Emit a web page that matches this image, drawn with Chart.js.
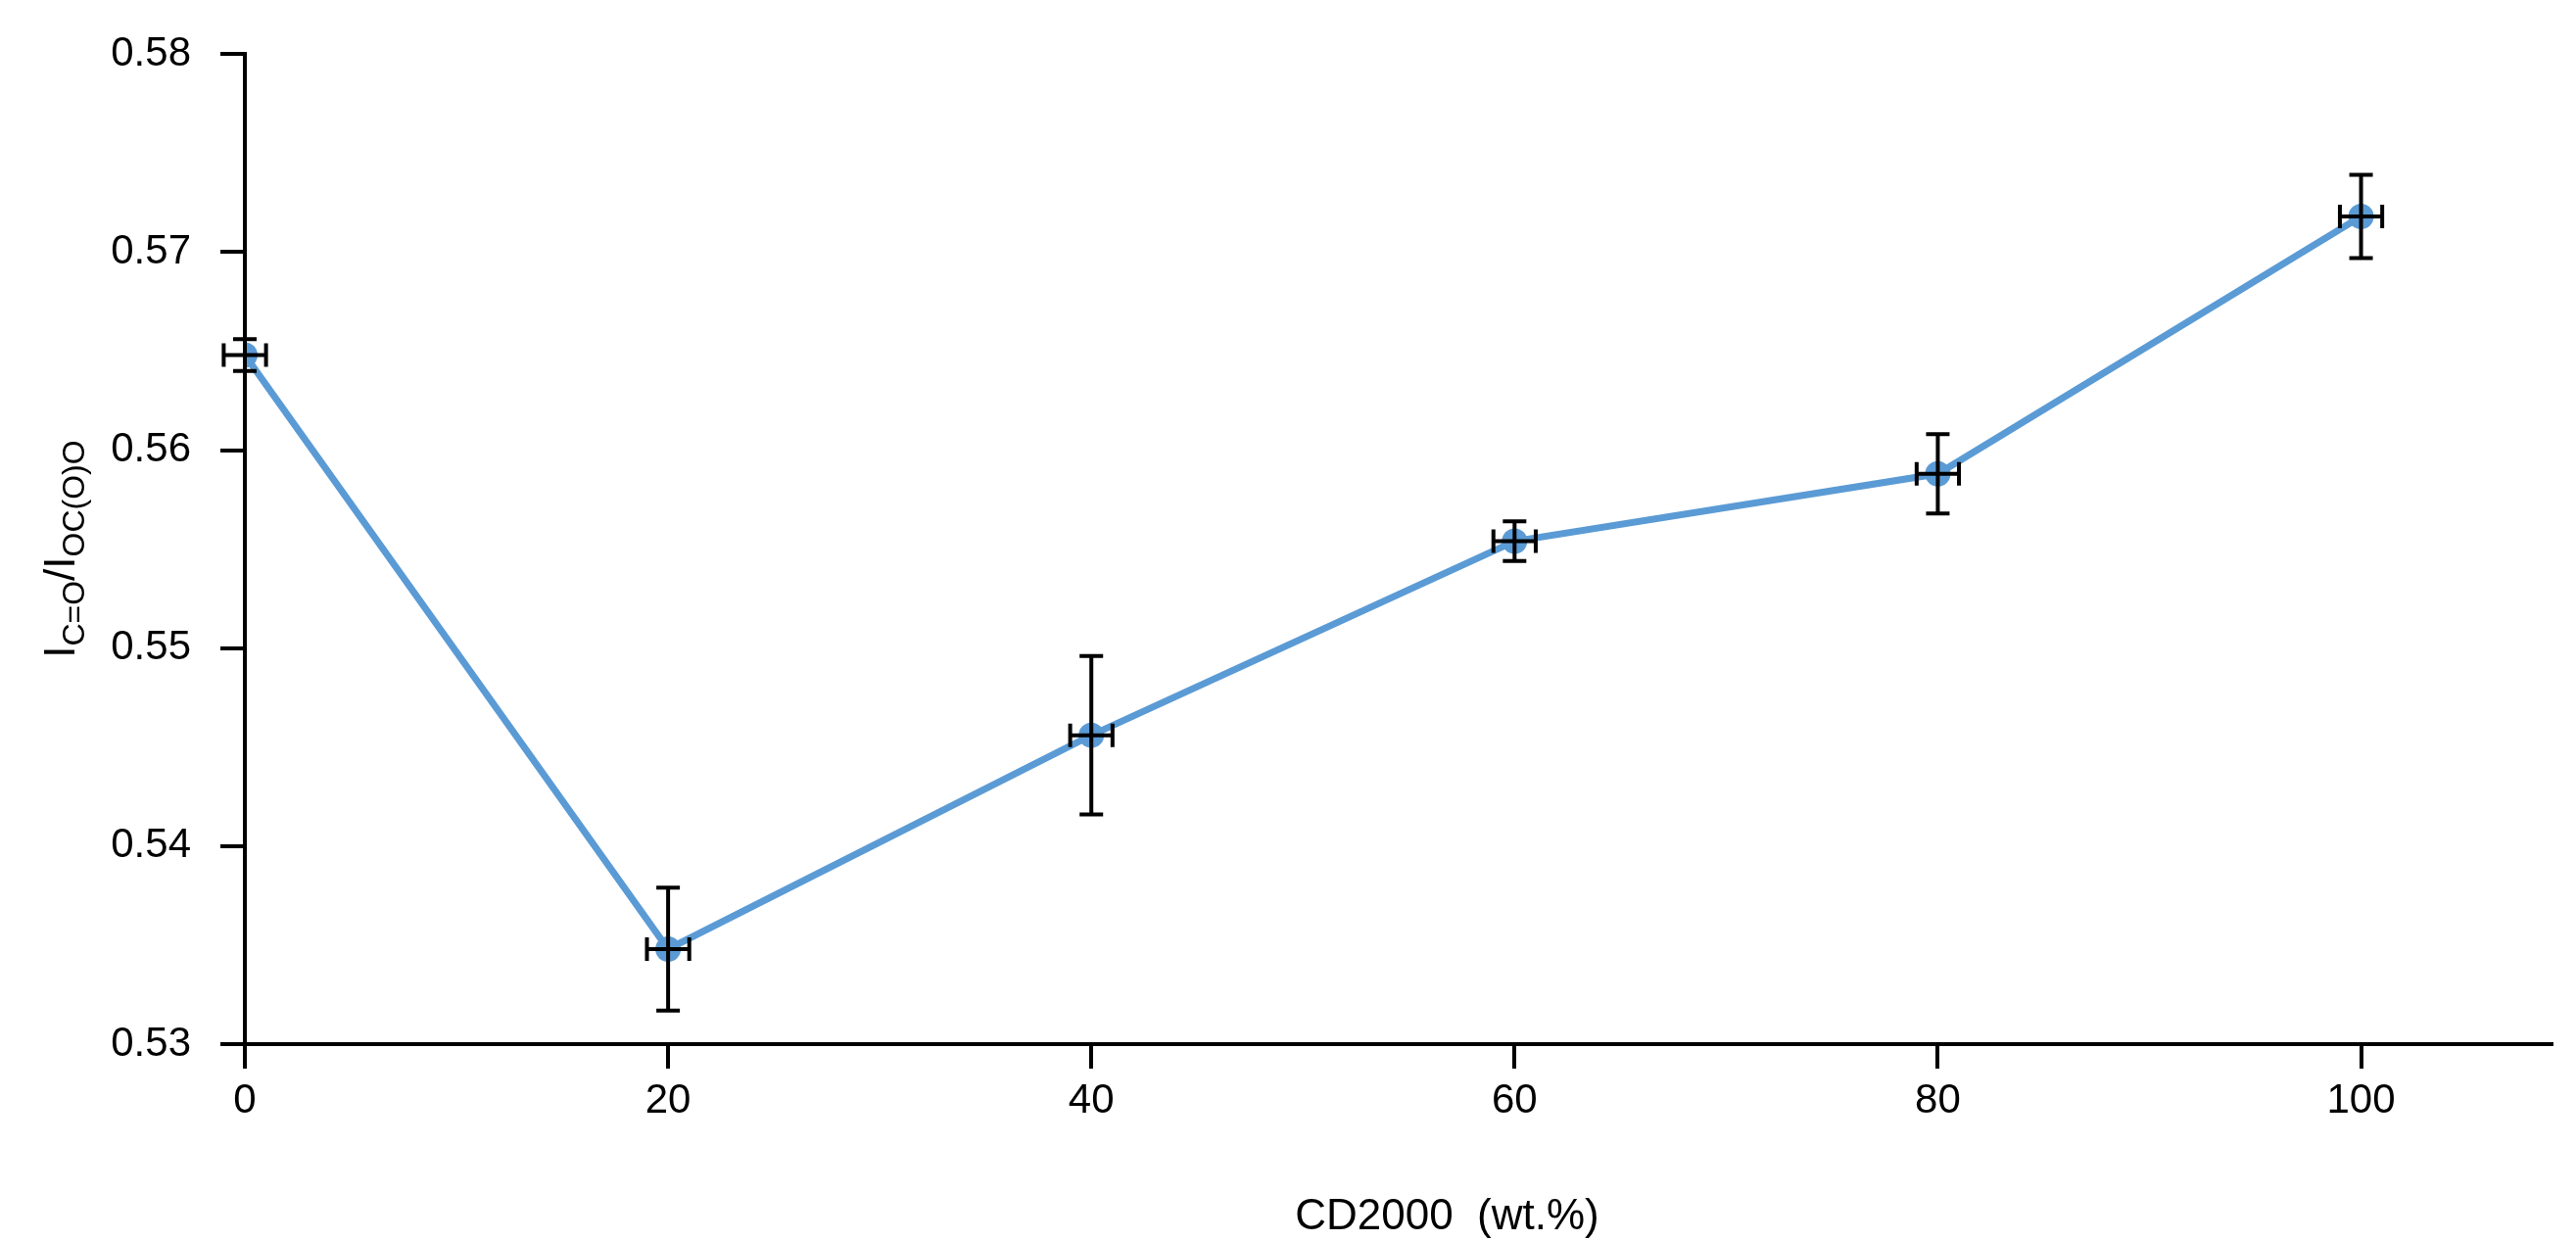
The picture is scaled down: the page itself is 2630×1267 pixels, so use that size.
<!DOCTYPE html>
<html>
<head>
<meta charset="utf-8">
<script src="https://cdn.jsdelivr.net/npm/chart.js@4"></script>
<style>
  html, body { margin: 0; padding: 0; background: #fff; }
  #wrap { width: 2630px; height: 1267px; }
</style>
</head>
<body>
<div id="wrap"><canvas id="chart" width="2630" height="1267"></canvas></div>
<script>
// Datos
const xValues = [0, 20, 40, 60, 80, 100];
const yValues = [0.5648, 0.5348, 0.5456, 0.5554, 0.5588, 0.5718];
const yErrors = [0.0008, 0.0031, 0.0040, 0.0010, 0.0020, 0.0021];
const xErrors = [1.0, 1.0, 1.0, 1.0, 1.0, 1.0];
const xTicks = [0, 20, 40, 60, 80, 100];
const yTicks = [0.53, 0.54, 0.55, 0.56, 0.57, 0.58];

const FONT = 'Liberation Sans, Arial, sans-serif';
const BLUE = '#5b9bd5';

// Barras de error en x e y
const errorBars = {
    id: 'errorBars',
    afterDatasetsDraw(chart) {
        const ctx = chart.ctx;
        const xs = chart.scales.x, ys = chart.scales.y;
        ctx.save();
        ctx.strokeStyle = '#000';
        ctx.lineWidth = 4;
        const cap = 12;
        for (let i = 0; i < xValues.length; i++) {
            const px = xs.getPixelForValue(xValues[i]);
            const py = ys.getPixelForValue(yValues[i]);
            const top = ys.getPixelForValue(yValues[i] + yErrors[i]);
            const bot = ys.getPixelForValue(yValues[i] - yErrors[i]);
            const l = xs.getPixelForValue(xValues[i] - xErrors[i]);
            const r = xs.getPixelForValue(xValues[i] + xErrors[i]);
            ctx.beginPath();
            ctx.moveTo(px, top); ctx.lineTo(px, bot);
            ctx.moveTo(px - cap, top); ctx.lineTo(px + cap, top);
            ctx.moveTo(px - cap, bot); ctx.lineTo(px + cap, bot);
            ctx.moveTo(l, py); ctx.lineTo(r, py);
            ctx.moveTo(l, py - cap); ctx.lineTo(l, py + cap);
            ctx.moveTo(r, py - cap); ctx.lineTo(r, py + cap);
            ctx.stroke();
        }
        ctx.restore();
    }
};

// Títulos de los ejes (con subíndices)
const axisTitles = {
    id: 'axisTitles',
    afterDraw(chart) {
        const ctx = chart.ctx;
        const area = chart.chartArea;
        ctx.save();
        ctx.fillStyle = '#000';
        ctx.font = '44px ' + FONT;
        ctx.textAlign = 'center';
        ctx.textBaseline = 'alphabetic';
        ctx.fillText('CD2000  (wt.%)', (area.left + area.right) / 2 + 50, 1255);

        // Título del eje y rotado
        ctx.translate(62, (area.top + area.bottom) / 2);
        ctx.rotate(-Math.PI / 2);
        const parts = [
            { t: 'I', size: 44, dy: 0 },
            { t: 'C=O', size: 32, dy: 10 },
            { t: '/I', size: 44, dy: 0 },
            { t: 'OC(O)O', size: 32, dy: 10 }
        ];
        let total = 0;
        parts.forEach(p => { ctx.font = p.size + 'px ' + FONT; total += ctx.measureText(p.t).width; });
        let x = -total / 2;
        ctx.textAlign = 'left';
        parts.forEach(p => {
            ctx.font = p.size + 'px ' + FONT;
            ctx.fillText(p.t, x, 14 + p.dy);
            x += ctx.measureText(p.t).width;
        });
        ctx.restore();
    }
};

const ctx = document.getElementById('chart').getContext('2d');
new Chart(ctx, {
    type: 'line',
    data: {
        datasets: [{
            data: xValues.map((x, i) => ({ x: x, y: yValues[i] })),
            borderColor: BLUE,
            backgroundColor: BLUE,
            borderWidth: 7,
            pointRadius: 13,
            pointBorderWidth: 0,
            pointBackgroundColor: BLUE,
            tension: 0
        }]
    },
    options: {
        responsive: false,
        animation: false,
        layout: { padding: { top: 51, right: 25, left: 0, bottom: 0 } },
        plugins: { legend: { display: false }, tooltip: { enabled: false } },
        scales: {
            x: {
                type: 'linear',
                min: 0,
                max: 109,
                afterFit(scale) { scale.height = 201; },
                afterBuildTicks(scale) { scale.ticks = xTicks.map(v => ({ value: v })); },
                grid: { drawOnChartArea: false, color: '#000', lineWidth: 4, tickLength: 25 },
                border: { color: '#000', width: 4 },
                ticks: { color: '#000', font: { family: FONT, size: 42 }, padding: 8, maxRotation: 0 }
            },
            y: {
                type: 'linear',
                min: 0.53,
                max: 0.58,
                afterFit(scale) { scale.width = 250; },
                afterBuildTicks(scale) { scale.ticks = yTicks.map(v => ({ value: v })); },
                grid: { drawOnChartArea: false, color: '#000', lineWidth: 4, tickLength: 25 },
                border: { color: '#000', width: 4 },
                ticks: {
                    color: '#000', font: { family: FONT, size: 42 }, padding: 30,
                    callback: v => v.toFixed(2)
                }
            }
        }
    },
    plugins: [errorBars, axisTitles]
});
</script>
</body>
</html>
